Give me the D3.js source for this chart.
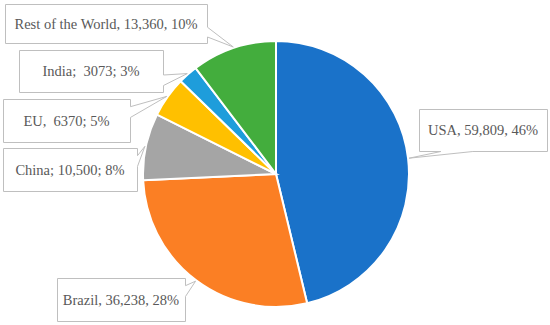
<!DOCTYPE html>
<html>
<head>
<meta charset="utf-8">
<script src="https://cdn.jsdelivr.net/npm/d3@7"></script>
<style>
  body { margin: 0; background: #fff; }
</style>
</head>
<body>
<div id="chart"></div>
<script>
// data
const categories = ["USA", "Brazil", "China", "EU", "India", "Rest of the World"];
const values = [59809, 36238, 10500, 6370, 3073, 13360];
const labels = ["USA, 59,809, 46%", "Brazil, 36,238, 28%", "China; 10,500; 8%",
                "EU,  6370; 5%", "India;  3073; 3%", "Rest of the World, 13,360, 10%"];
const colors = ["#1a72c9", "#fb7f24", "#a5a5a5", "#ffc000", "#1e9ddb", "#43ad3d"];

// label box placement (x, y, w, h)
const boxes = [
  [419, 109, 128, 42],
  [57, 278, 128, 43],
  [3, 148, 134, 43],
  [3, 99, 127, 43],
  [19, 50, 144, 42],
  [5, 4, 202, 39]
];

const width = 550, height = 325;
const cx = 276, cy = 174, radius = 133;

const svg = d3.select("#chart")
    .append("svg")
    .attr("width", width)
    .attr("height", height);

const data = categories.map((c, i) => ({name: c, value: values[i], label: labels[i], color: colors[i], box: boxes[i]}));

const pie = d3.pie()
    .sort(null)
    .value(d => d.value);

const arc = d3.arc()
    .innerRadius(0)
    .outerRadius(radius);

const arcs = pie(data);

const g = svg.append("g")
    .attr("transform", "translate(" + cx + "," + cy + ")");

g.selectAll("path.slice")
    .data(arcs)
    .enter()
    .append("path")
    .attr("class", "slice")
    .attr("d", arc)
    .attr("fill", d => d.data.color)
    .attr("stroke", "#fff")
    .attr("stroke-width", 2);

// callout shape like Excel's wedgeRectCallout
function callout(x, y, w, h, tx, ty) {
    const hc = x + w / 2, vc = y + h / 2;
    const dx = tx - hc, dy = ty - vc;
    const dq = dx * h / w;
    const dz = Math.abs(dy) - Math.abs(dq);
    const x1 = x + w * (dx > 0 ? 7 : 2) / 12, x2 = x + w * (dx > 0 ? 10 : 5) / 12;
    const y1 = y + h * (dy > 0 ? 7 : 2) / 12, y2 = y + h * (dy > 0 ? 10 : 5) / 12;
    const p = d3.path();
    p.moveTo(x, y);
    if (dz > 0 && dy < 0) { p.lineTo(x1, y); p.lineTo(tx, ty); p.lineTo(x2, y); }
    p.lineTo(x + w, y);
    if (dz <= 0 && dx > 0) { p.lineTo(x + w, y1); p.lineTo(tx, ty); p.lineTo(x + w, y2); }
    p.lineTo(x + w, y + h);
    if (dz > 0 && dy > 0) { p.lineTo(x2, y + h); p.lineTo(tx, ty); p.lineTo(x1, y + h); }
    p.lineTo(x, y + h);
    if (dz <= 0 && dx < 0) { p.lineTo(x, y2); p.lineTo(tx, ty); p.lineTo(x, y1); }
    p.closePath();
    return p.toString();
}

arcs.forEach(function(a) {
    const b = a.data.box;
    const mid = (a.startAngle + a.endAngle) / 2;
    const tx = cx + (radius + 1) * Math.sin(mid);
    const ty = cy - (radius + 1) * Math.cos(mid);
    svg.append("path")
        .attr("d", callout(b[0] + 0.5, b[1] + 0.5, b[2], b[3], tx, ty))
        .attr("fill", "#fff")
        .attr("stroke", "#bfbfbf")
        .attr("stroke-width", 1);
    svg.append("text")
        .attr("x", b[0] + b[2] / 2)
        .attr("y", b[1] + b[3] / 2 + 5)
        .attr("text-anchor", "middle")
        .attr("font-family", "'Liberation Serif', serif")
        .attr("font-size", "14.5px")
        .attr("fill", "#595959")
        .style("white-space", "pre")
        .text(a.data.label);
});
</script>
</body>
</html>
